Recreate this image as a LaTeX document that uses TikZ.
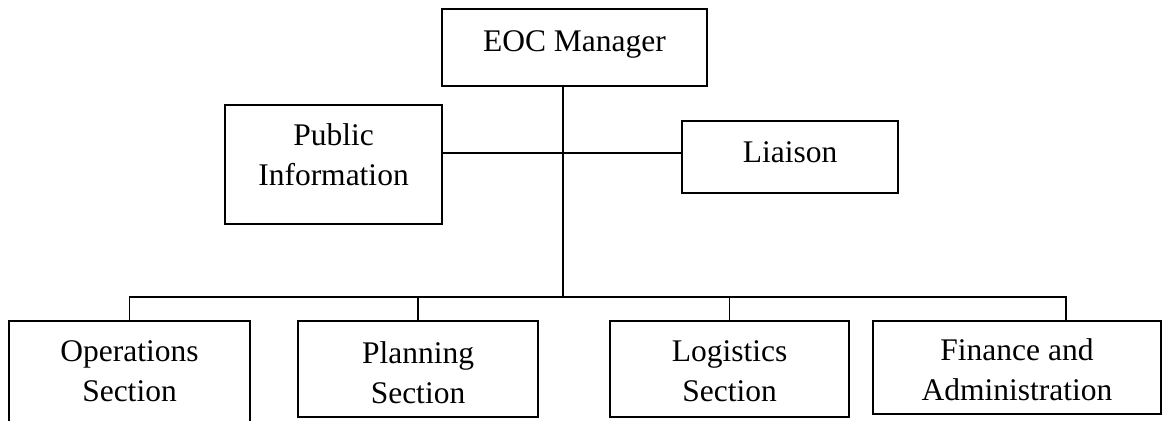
\documentclass[tikz,border=0pt]{standalone}
\usepackage{fontspec}
\setmainfont{Liberation Serif}
\usetikzlibrary{positioning}

\begin{document}
\begin{tikzpicture}[x=0.5pt, y=-0.5pt,
    box/.style={draw, line width=1pt, inner sep=0pt},
    lbl/.style={anchor=north, inner sep=0pt, align=center,
      font=\fontsize{15.75}{20}\selectfont},
    wire/.style={line width=0.9pt}]
  \clip (0,0) rectangle (1162,420);
  % top level
  \node[box, minimum width=132.5pt, minimum height=38.5pt] (mgr) at (574.5,47.5) {};
  \node[lbl, below=11pt of mgr.north] (mgrtxt) {EOC Manager};
  % staff
  \node[box, minimum width=108.5pt, minimum height=59.5pt] (pub) at (333.5,164.5) {};
  \node[lbl, below=9.5pt of pub.north] (pubtxt) {Public\\Information};
  \node[box, minimum width=108pt, minimum height=36pt] (liaison) at (790,157) {};
  \node[lbl, below=10.5pt of liaison.north] (liaisontxt) {Liaison};
  % sections
  \node[box, minimum width=120.5pt, minimum height=52pt] (ops) at (129.5,373) {};
  \node[lbl, below=10pt of ops.north] (opstxt) {Operations\\Section};
  \node[box, minimum width=120pt, minimum height=48pt] (plan) at (418,369) {};
  \node[lbl, below=10.5pt of plan.north] (plantxt) {Planning\\Section};
  \node[box, minimum width=119.5pt, minimum height=48pt] (log) at (729.5,369) {};
  \node[lbl, below=10pt of log.north] (logtxt) {Logistics\\Section};
  \node[box, minimum width=144pt, minimum height=46.5pt] (fin) at (1017,367.5) {};
  \node[lbl, below=9pt of fin.north] (fintxt) {Finance and\\Administration};
  % connectors
  \coordinate (mid) at (563,153);
  \coordinate (bus) at (563,297);
  \coordinate (finTick) at (1066,321);
  \draw[wire] (mgr.south -| bus) -- (bus);
  \draw[wire] (pub.east |- mid) -- (liaison.west |- mid);
  \draw[wire] (ops.north) |- (bus);
  \draw[wire] (finTick) |- (bus);
  \draw[wire] (plan.north) -- (plan.north |- bus);
  \draw[wire] (log.north) -- (log.north |- bus);
\end{tikzpicture}
\end{document}
